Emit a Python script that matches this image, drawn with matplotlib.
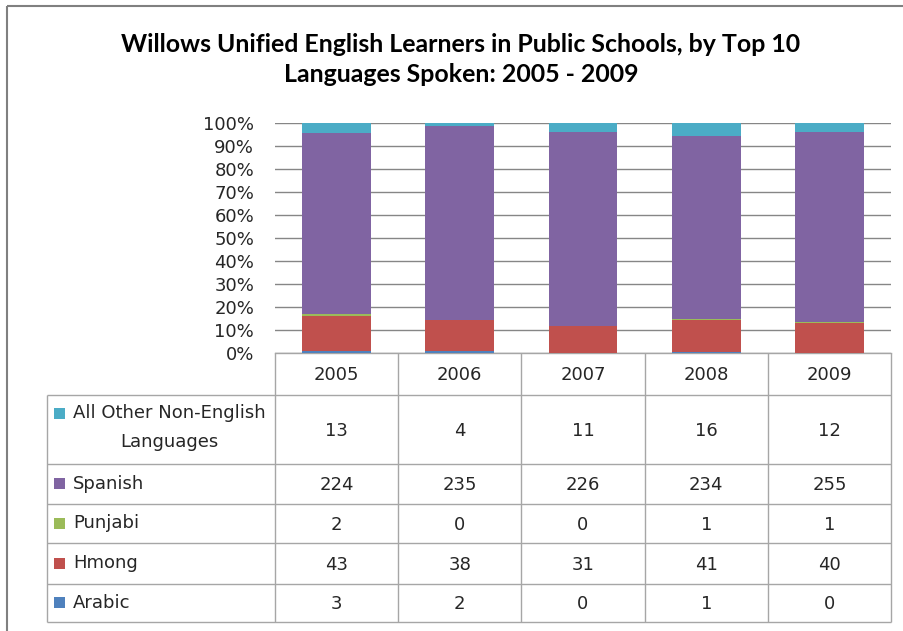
import numpy as np
import matplotlib
matplotlib.use("Agg")
import matplotlib.pyplot as plt
from matplotlib.ticker import MultipleLocator, FuncFormatter
from matplotlib.patches import Rectangle

# Enrollment counts of English learners, by language and school year
years = ["2005", "2006", "2007", "2008", "2009"]
arabic = [3, 2, 0, 1, 0]
hmong = [43, 38, 31, 41, 40]
punjabi = [2, 0, 0, 1, 1]
spanish = [224, 235, 226, 234, 255]
other = [13, 4, 11, 16, 12]

# Stack order bottom -> top
series_names = ["Arabic", "Hmong", "Punjabi", "Spanish", "All Other Non-English\nLanguages"]
series_values = [arabic, hmong, punjabi, spanish, other]
series_colors = ["#4F81BD", "#C0504D", "#9BBB59", "#8064A2", "#4BACC6"]

W, H = 904, 631
fig = plt.figure(figsize=(W / 100, H / 100), dpi=100)
fig.patch.set_facecolor("white")


def px_axes(x0, y0, x1, y1):
    """Axes placed by pixel box (top-left origin)."""
    return fig.add_axes([x0 / W, 1 - y1 / H, (x1 - x0) / W, (y1 - y0) / H])


TEXT = "#262626"
GRID = "#868686"
CELL = "#a6a6a6"
FS = 13

# ---- 100% stacked columns ----
plot_l, plot_r, plot_t, plot_b = 275, 891, 123, 353
ax = px_axes(plot_l, plot_t, plot_r, plot_b)
vals = np.array(series_values, dtype=float)
pct = vals / vals.sum(axis=0) * 100
x = np.arange(len(years))
bottom = np.zeros(len(years))
for row, color in zip(pct, series_colors):
    ax.bar(x, row, bottom=bottom, width=0.56, color=color, zorder=3, linewidth=0)
    bottom += row

ax.set_xlim(-0.5, len(years) - 0.5)
ax.set_ylim(0, 100)
ax.yaxis.set_major_locator(MultipleLocator(10))
ax.yaxis.set_major_formatter(FuncFormatter(lambda v, _: f"{v:.0f}%"))
ax.grid(axis="y", color=GRID, linewidth=1, zorder=0)
ax.set_xticks([])
ax.tick_params(axis="y", length=0, pad=15, labelsize=FS, labelcolor=TEXT)
for side in ["left", "right", "top"]:
    ax.spines[side].set_visible(False)
ax.spines["bottom"].set_color(CELL)
ax.spines["bottom"].set_linewidth(1)

# ---- overlay for title, data table and chart border ----
ov = px_axes(0, 0, W, H)
ov.set_xlim(0, W)
ov.set_ylim(H, 0)
ov.axis("off")
ov.patch.set_alpha(0)

ov.add_patch(Rectangle((7, 6), W, H, fill=False, edgecolor="#808080", linewidth=1.5))

title_kw = dict(ha="center", va="center", fontsize=17.9, fontweight="bold",
                family="Lato", color="black")
ov.text(461, 44, "Willows Unified English Learners in Public Schools, by Top 10", **title_kw)
ov.text(461, 75, "Languages Spoken: 2005 - 2009", **title_kw)

# table geometry
label_l = 47
col_edges = np.linspace(plot_l, plot_r, len(years) + 1)
row_edges = [plot_b, 395, 464, 504, 543, 584, 622]

line_kw = dict(color=CELL, linewidth=1, solid_capstyle="butt")
for y in row_edges[1:]:
    ov.plot([label_l, plot_r], [y, y], **line_kw)
ov.plot([label_l, label_l], [row_edges[1], row_edges[-1]], **line_kw)
for xe in col_edges:
    ov.plot([xe, xe], [row_edges[0], row_edges[-1]], **line_kw)

col_mid = (col_edges[:-1] + col_edges[1:]) / 2
for cx, yr in zip(col_mid, years):
    ov.text(cx, (row_edges[0] + row_edges[1]) / 2 + 1, yr, ha="center", va="center",
            fontsize=FS, color=TEXT)

# table rows run top -> bottom, opposite to the stack order
table_rows = list(zip(series_names, series_values, series_colors))[::-1]
for i, (name, row, color) in enumerate(table_rows):
    y0, y1 = row_edges[i + 1], row_edges[i + 2]
    ym = (y0 + y1) / 2
    if "\n" in name:
        ov.add_patch(Rectangle((54, y0 + 13), 11, 11, color=color, linewidth=0))
        ov.text(73, ym - 2, name, ha="left", va="center", multialignment="center",
                fontsize=FS, color=TEXT, linespacing=1.8)
    else:
        ov.add_patch(Rectangle((54, ym - 6), 11, 11, color=color, linewidth=0))
        ov.text(73, ym, name, ha="left", va="center", fontsize=FS, color=TEXT)
    for cx, v in zip(col_mid, row):
        ov.text(cx, ym + 1, str(v), ha="center", va="center", fontsize=FS, color=TEXT)

fig.savefig("out.png", dpi=100)
